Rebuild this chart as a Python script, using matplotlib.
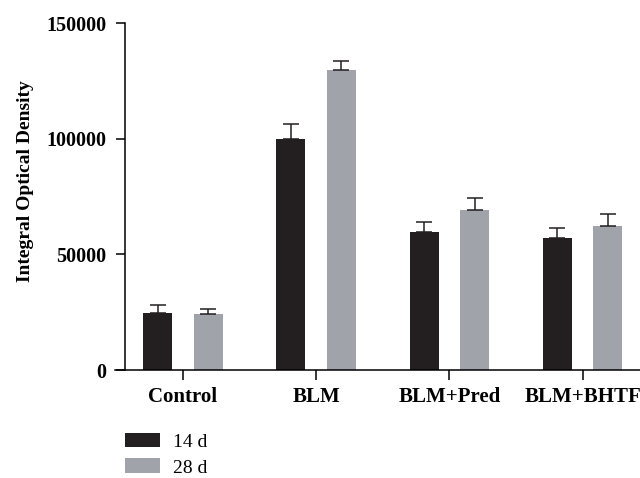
#!/usr/bin/env python3
import matplotlib
matplotlib.use("Agg")
import matplotlib.pyplot as plt
import numpy as np

groups = ["Control", "BLM", "BLM+Pred", "BLM+BHTF"]
series_names = ["14 d", "28 d"]
means_14d = [24700, 100000, 59700, 57100]
errs_14d = [3600, 6500, 4500, 4300]
means_28d = [24200, 129800, 69200, 62300]
errs_28d = [2000, 3800, 5200, 5300]
yticks = [0, 50000, 100000, 150000]


def main():
    plt.rcParams["font.family"] = ["Liberation Serif", "DejaVu Serif"]
    fig = plt.figure(figsize=(6.4, 4.78), dpi=100)
    ax = fig.add_axes([0.1797, 0.2259, 0.8367, 0.7253])

    x = np.arange(len(groups))
    width = 0.218
    off = 0.19
    err_kw = dict(ecolor="#231f20", elinewidth=1.1, capsize=6, capthick=1.1)
    ax.bar(x - off, means_14d, width, yerr=[np.zeros(4), errs_14d],
           color="#231f20", label=series_names[0], error_kw=err_kw)
    ax.bar(x + off, means_28d, width, yerr=[np.zeros(4), errs_28d],
           color="#a0a3aa", label=series_names[1], error_kw=err_kw)

    ax.set_xlim(-0.51, 3.51)
    ax.set_ylim(0, 150000)
    ax.spines["top"].set_visible(False)
    ax.spines["right"].set_visible(False)
    ax.spines["left"].set_position(("data", -0.435))
    ax.spines["left"].set_linewidth(1.1)
    ax.spines["bottom"].set_linewidth(1.1)

    ax.set_yticks(yticks)
    ax.set_yticklabels([str(v) for v in yticks], fontweight="bold", fontsize=14.5)
    ax.set_xticks(x)
    ax.set_xticklabels(groups, fontweight="bold", fontsize=15)
    ax.tick_params(axis="y", length=6.5, width=1.1, pad=7)
    ax.tick_params(axis="x", length=7, width=1.1, pad=5)

    ax.set_ylabel("Integral Optical Density", fontweight="bold", fontsize=14)
    ax.yaxis.set_label_coords(-0.152, 0.545)

    fig.legend(loc="upper left", bbox_to_anchor=(0.195, 0.095), frameon=False,
               fontsize=14, handlelength=1.8, handleheight=0.8,
               labelspacing=0.39, handletextpad=0.67, borderaxespad=0,
               borderpad=0)

    fig.savefig("out.png", dpi=100)


if __name__ == "__main__":
    main()
